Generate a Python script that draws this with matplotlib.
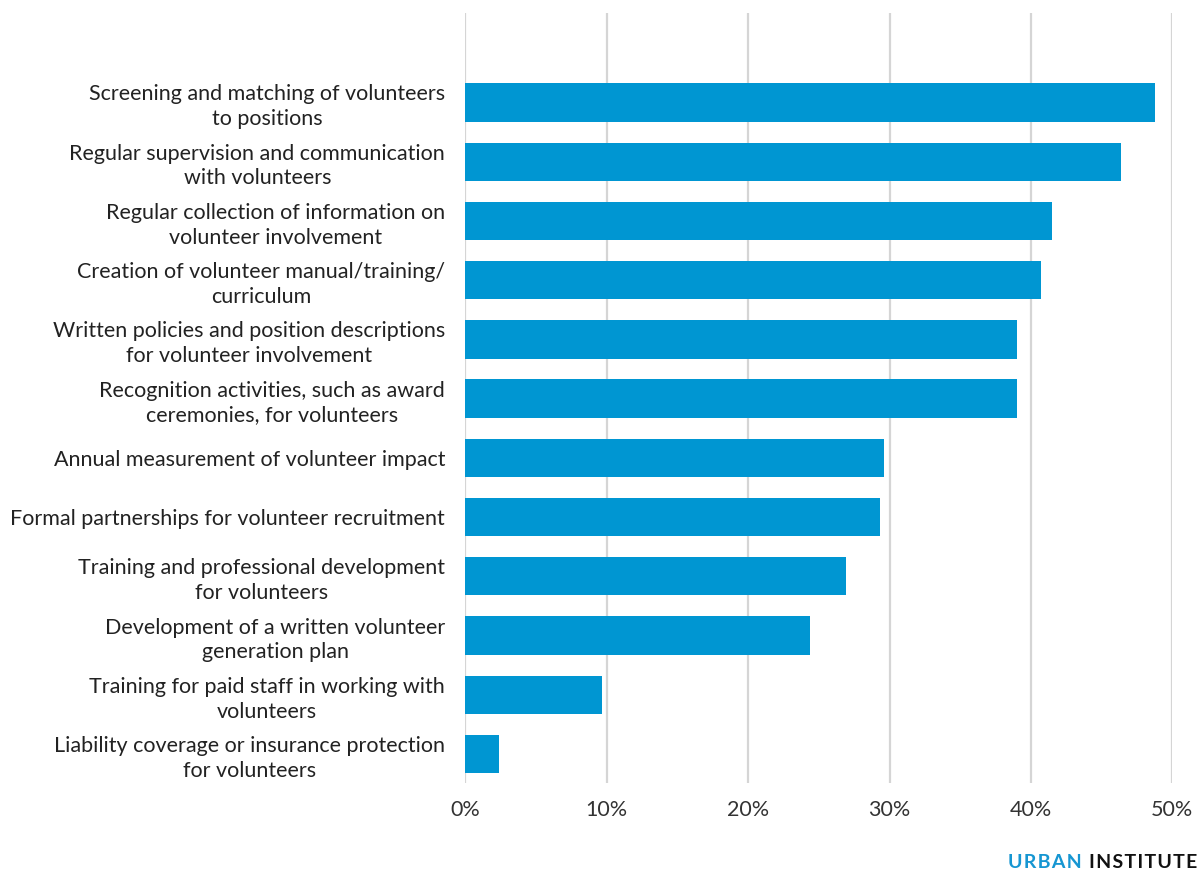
import matplotlib
matplotlib.use("Agg")
import matplotlib.pyplot as plt
from matplotlib.ticker import FuncFormatter

categories = [
    "Screening and matching of volunteers\nto positions",
    "Regular supervision and communication\nwith volunteers",
    "Regular collection of information on\nvolunteer involvement",
    "Creation of volunteer manual/training/\ncurriculum",
    "Written policies and position descriptions\nfor volunteer involvement",
    "Recognition activities, such as award\nceremonies, for volunteers",
    "Annual measurement of volunteer impact",
    "Formal partnerships for volunteer recruitment",
    "Training and professional development\nfor volunteers",
    "Development of a written volunteer\ngeneration plan",
    "Training for paid staff in working with\nvolunteers",
    "Liability coverage or insurance protection\nfor volunteers",
]
values = [48.8, 46.4, 41.5, 40.7, 39.0, 39.0, 29.6, 29.3, 26.9, 24.4, 9.7, 2.4]
xticks = [0, 10, 20, 30, 40, 50]

plt.rcParams['font.family'] = ['Lato', 'DejaVu Sans']

fig = plt.figure(figsize=(11.99, 8.71), dpi=100)
ax = fig.add_axes([465.3/1199, 1 - 783/871, (1172.3-465.3)/1199, (783-13)/871])

ypos = list(range(len(categories)))
ax.barh(ypos, values, height=0.647, color='#0096d2', zorder=3)
ax.set_ylim(11.49, -1.51)
ax.set_xlim(0, 50)
ax.set_xticks(xticks)
ax.xaxis.set_major_formatter(FuncFormatter(lambda v, p: f"{int(v)}%"))
ax.set_yticks(ypos)
ax.set_yticklabels(categories, multialignment='center', linespacing=1.3)
for lbl in ax.get_yticklabels():
    lbl.set_y(lbl.get_position()[1])
ax.tick_params(axis='y', length=0, pad=14.5, labelsize=15.5, labelcolor='#222222')
ax.tick_params(axis='x', length=0, pad=12, labelsize=15.5, labelcolor='#333333')
ax.grid(axis='x', color='#d5d5d5', linewidth=1.6, zorder=0)
for s in ax.spines.values():
    s.set_visible(False)

hs = "\u200a"
fig.text(1197/1199, 1 - 862/871, hs.join("INSTITUTE"), ha='right', va='center',
         fontsize=14, fontweight='bold', color='#111111')
fig.text(1082/1199, 1 - 862/871, hs.join("URBAN"), ha='right', va='center',
         fontsize=14, fontweight='bold', color='#1696d2')

fig.savefig("out.png", dpi=100)
